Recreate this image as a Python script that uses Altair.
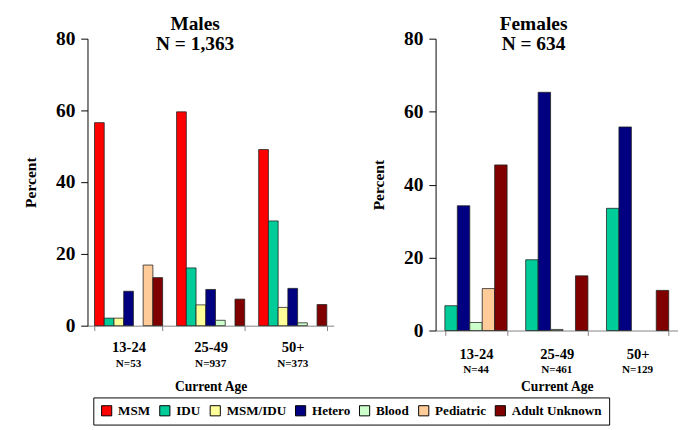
import altair as alt
import pandas as pd

age_groups = ["13-24", "25-49", "50+"]
male_counts = ["N=53", "N=937", "N=373"]
female_counts = ["N=44", "N=461", "N=129"]

categories = ["MSM", "IDU", "MSM/IDU", "Hetero", "Blood", "Pediatric", "Adult Unknown"]
colors = ["#FF0000", "#00CC99", "#FFFF99", "#000080", "#CCFFCC", "#FFCC99", "#800000"]

# Males (percent by current age group)
male_msm = [56.6, 59.6, 49.1]
male_idu = [2.1, 16.1, 29.2]
male_msm_idu = [2.1, 5.8, 5.1]
male_hetero = [9.6, 10.1, 10.4]
male_blood = [0.0, 1.5, 0.8]
male_pediatric = [16.9, 0.0, 0.0]
male_unknown = [13.4, 7.4, 5.9]

# Females
female_categories = ["IDU", "Hetero", "Blood", "Pediatric", "Adult Unknown"]
female_idu = [6.8, 19.4, 33.5]
female_hetero = [34.2, 65.3, 55.8]
female_blood = [2.2, 0.3, 0.0]
female_pediatric = [11.5, 0.0, 0.0]
female_unknown = [45.4, 15.0, 11.0]

FONT = "Liberation Serif"


def long_df(series):
    rows = []
    for cat, vals in series:
        for age, v in zip(age_groups, vals):
            if v > 0:
                rows.append({"age": age, "category": cat, "percent": v})
    return pd.DataFrame(rows)


male_df = long_df([
    ("MSM", male_msm), ("IDU", male_idu), ("MSM/IDU", male_msm_idu),
    ("Hetero", male_hetero), ("Blood", male_blood),
    ("Pediatric", male_pediatric), ("Adult Unknown", male_unknown),
])
female_df = long_df([
    ("IDU", female_idu), ("Hetero", female_hetero), ("Blood", female_blood),
    ("Pediatric", female_pediatric), ("Adult Unknown", female_unknown),
])
male_n = pd.DataFrame({"age": age_groups, "n": male_counts})
female_n = pd.DataFrame({"age": age_groups, "n": female_counts})

legend = alt.Legend(
    title=None, orient="none", legendX=6, legendY=370, direction="horizontal",
    symbolType="square", symbolSize=110, symbolStrokeColor="black", symbolStrokeWidth=1,
    symbolOpacity=1, labelFont=FONT, labelFontWeight="bold", labelFontSize=13.5,
    labelColor="black", strokeColor="black", fillColor="white", padding=7,
    columnPadding=7, labelOffset=5,
)


def panel(df, counts, cats, title_lines, width, height, dx, xpad, n_off, label_pad, title_pad):
    x_enc = alt.X(
        "age:N", sort=age_groups,
        scale=alt.Scale(domain=age_groups, paddingInner=xpad, paddingOuter=xpad / 2),
        axis=alt.Axis(
            title="Current Age", tickBand="extent", labelAngle=0, tickSize=5,
            labelPadding=label_pad, labelFont=FONT, labelFontWeight="bold", labelFontSize=15,
            labelColor="black", titleFont=FONT, titleFontWeight="bold", titleFontSize=14,
            titleColor="black", titlePadding=title_pad, domainColor="#808080",
            tickColor="#808080", grid=False,
        ),
    )
    bars = alt.Chart(df).mark_bar(stroke="#222222", strokeWidth=0.8).encode(
        x=x_enc,
        xOffset=alt.XOffset("category:N", sort=cats,
                            scale=alt.Scale(domain=cats, paddingInner=0, paddingOuter=0)),
        y=alt.Y(
            "percent:Q", scale=alt.Scale(domain=[0, 80], nice=False),
            axis=alt.Axis(
                values=[0, 20, 40, 60, 80], title="Percent", grid=False, tickSize=7,
                labelPadding=6, labelFont=FONT, labelFontWeight="bold", labelFontSize=20,
                labelColor="black", titleFont=FONT, titleFontWeight="bold", titleFontSize=16,
                titleColor="black", titlePadding=18, domainColor="black", tickColor="black",
            ),
        ),
        color=alt.Color("category:N", scale=alt.Scale(domain=categories, range=colors),
                        legend=legend),
    )
    texts = alt.Chart(counts).mark_text(
        font=FONT, fontWeight="bold", fontSize=11.5, color="black", baseline="middle"
    ).encode(x=x_enc, y=alt.value(height + n_off), text="n:N")
    return alt.layer(bars, texts).properties(
        width=width, height=height,
        title=alt.TitleParams(
            text=title_lines, font=FONT, fontWeight="bold", fontSize=20, color="black",
            lineHeight=21, offset=-26, dx=dx, anchor="middle",
        ),
    )


males = panel(male_df, male_n, categories, ["Males", "N = 1,363"], 254, 296, -16, 0.17, 40, 10, 26)
females = panel(female_df, female_n, female_categories, ["Females", "N = 634"], 250, 301, -24, 0.23, 41, 12, 19)

chart = alt.hconcat(males, females, spacing=38).resolve_scale(
    xOffset="independent", x="independent", y="independent", color="shared"
).properties(
    padding={"left": 15, "top": 0, "right": 0, "bottom": 0}
).configure_view(stroke=None).configure_legend(
    labelFont=FONT, labelFontWeight="bold", labelFontSize=13.5, labelColor="black"
)

chart.save("out.html", embed_options={"renderer": "svg", "actions": False})
